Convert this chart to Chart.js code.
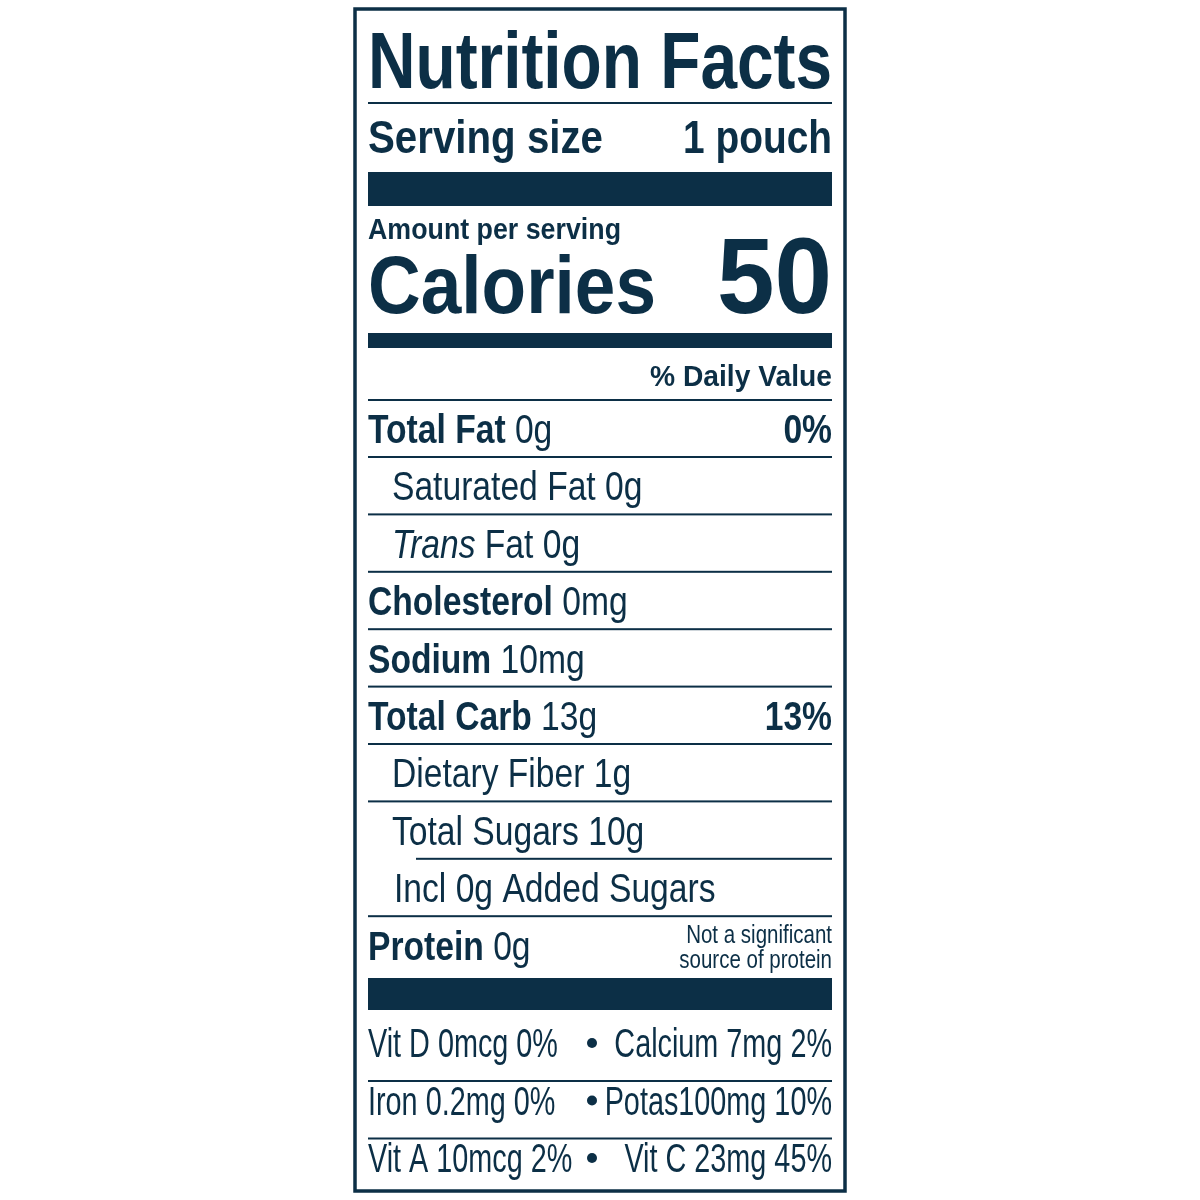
<!DOCTYPE html>
<html><head><meta charset="utf-8">
<script src="https://cdn.jsdelivr.net/npm/chart.js@4/dist/chart.umd.min.js"></script>
<style>html,body{margin:0;background:#fff}#c{display:block}</style>
</head><body>
<div style="width:1200px;height:1200px"><canvas id="c" width="1200" height="1200"></canvas></div>
<script>
// label data
const nutrients = ['Total Fat', 'Saturated Fat', 'Trans Fat', 'Cholesterol', 'Sodium', 'Total Carb', 'Dietary Fiber', 'Total Sugars', 'Incl 0g Added Sugars', 'Protein'];
const amounts = ['0g', '0g', '0g', '0mg', '10mg', '13g', '1g', '10g', '', '0g'];
const dailyValues = ['0%', '', '', '', '', '13%', '', '', '', ''];
const indents = [0, 1, 1, 0, 0, 0, 1, 1, 2, 0];
const vitaminsLeft = ['Vit D 0mcg 0%', 'Iron 0.2mg 0%', 'Vit A 10mcg 2%'];
const vitaminsRight = ['Calcium 7mg 2%', 'Potas100mg 10%', 'Vit C 23mg 45%'];
const servingSize = '1 pouch';
const calories = '50';

const INK = '#0c2f46';
const F = '"Liberation Sans", Arial, sans-serif';
const L = 368, R = 832;

function txt(ctx, s, x, y, size, weight, align, sx, italic) {
    ctx.save();
    ctx.translate(x, y);
    ctx.scale(sx || 0.82, 1);
    ctx.font = (italic ? 'italic ' : '') + weight + ' ' + size + 'px ' + F;
    ctx.textAlign = align || 'left';
    ctx.textBaseline = 'alphabetic';
    ctx.fillText(s, 0, 0);
    const w = ctx.measureText(s).width * (sx || 0.82);
    ctx.restore();
    return w;
}
function fitTxt(ctx, s, x, y, size, weight, width, align) {
    ctx.save();
    ctx.font = weight + ' ' + size + 'px ' + F;
    const sx = width / ctx.measureText(s).width;
    ctx.restore();
    txt(ctx, s, x, y, size, weight, align, sx);
}
function rule(ctx, x1, x2, y, h) { ctx.fillRect(x1, y, x2 - x1, h); }

const labelPlugin = {
    id: 'label',
    afterDraw(chart) {
        const ctx = chart.ctx;
        const y = chart.scales.y;
        const p = v => y.getPixelForValue(v);
        ctx.save();
        ctx.fillStyle = INK;
        ctx.strokeStyle = INK;
        ctx.lineWidth = 3.5;
        ctx.strokeRect(355, 9, 490, 1182);

        fitTxt(ctx, 'Nutrition Facts', L, p(88), 80, 'bold', R - L);
        rule(ctx, L, R, p(102), 2);
        fitTxt(ctx, 'Serving size', L, p(153), 46, 'bold', 235);
        fitTxt(ctx, servingSize, R, p(153), 46, 'bold', 149, 'right');
        rule(ctx, L, R, p(172), 34);
        fitTxt(ctx, 'Amount per serving', L, p(239), 30, 'bold', 253);
        fitTxt(ctx, 'Calories', L, p(313), 82, 'bold', 288);
        fitTxt(ctx, calories, R, p(313), 108, 'bold', 115, 'right');
        rule(ctx, L, R, p(333), 15);
        fitTxt(ctx, '% Daily Value', R, p(386), 29, 'bold', 182, 'right');
        rule(ctx, L, R, p(399), 2);

        nutrients.forEach((n, i) => {
            const base = p(443 + i * 57.4);
            const x = L + [0, 24, 26, 48][indents[i]] ;
            const bold = indents[i] === 0;
            let w;
            if (n === 'Trans Fat') {
                w = txt(ctx, 'Trans', x, base, 41, 'normal', 'left', 0.82, true);
                txt(ctx, ' Fat ' + amounts[i], x + w, base, 41, 'normal');
            } else {
                w = txt(ctx, n, x, base, 41, bold ? 'bold' : 'normal');
                if (amounts[i]) txt(ctx, ' ' + amounts[i], x + w, base, 41, 'normal');
            }
            if (dailyValues[i]) txt(ctx, dailyValues[i], R, base, 41, 'bold', 'right');
            if (i < nutrients.length - 1) {
                const rx = indents[i + 1] === 2 ? 416 : L;
                rule(ctx, rx, R, base + 13, 2);
            }
        });
        txt(ctx, 'Not a significant', R, p(943), 25, 'normal', 'right');
        txt(ctx, 'source of protein', R, p(968), 25, 'normal', 'right');
        rule(ctx, L, R, p(978), 32);

        vitaminsLeft.forEach((v, i) => {
            const base = p(1057 + i * 57.5);
            txt(ctx, v, L, base, 40, 'normal', 'left', 0.72);
            txt(ctx, vitaminsRight[i], R, base, 40, 'normal', 'right', 0.72);
            ctx.beginPath();
            ctx.arc(592, base - 14, 5, 0, Math.PI * 2);
            ctx.fill();
            if (i < 2) rule(ctx, L, R, base + 23, 2);
        });
        ctx.restore();
    }
};

new Chart(document.getElementById('c'), {
    type: 'bar',
    data: { labels: nutrients, datasets: [{ data: [] }] },
    options: {
        responsive: false,
        animation: false,
        layout: { padding: 0 },
        plugins: { legend: { display: false }, tooltip: { enabled: false } },
        scales: {
            x: { display: false },
            y: { display: false, min: 0, max: 1200, reverse: true }
        }
    },
    plugins: [labelPlugin]
});
</script>
</body></html>
